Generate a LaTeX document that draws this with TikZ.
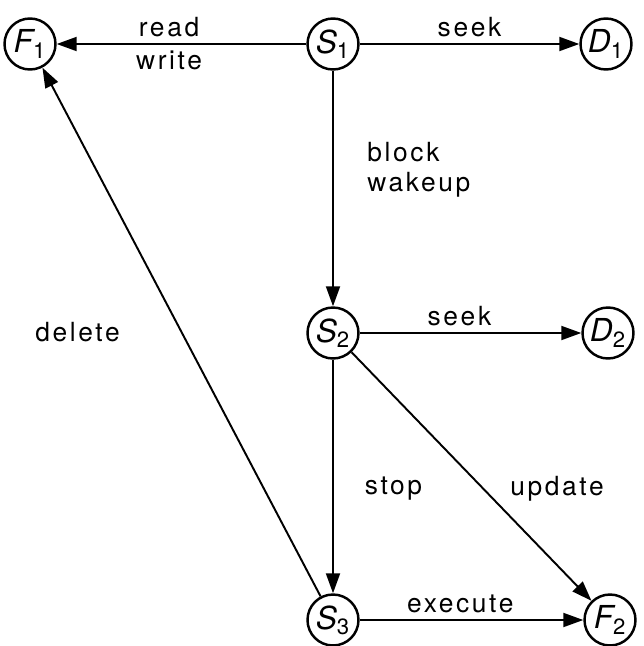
\documentclass[tikz,border=0pt]{standalone}
\usepackage{fontspec}
\setmainfont{TeX Gyre Heros}[LetterSpace=10]
\usetikzlibrary{automata,arrows.meta,positioning}

\begin{document}
\begin{tikzpicture}[x=0.02cm,y=-0.02cm,>={Triangle[length=4mm,width=2.8mm]},auto,
    every state/.style={draw,line width=1.4pt,minimum size=1.02cm,inner sep=0pt,
      font=\fontsize{18}{18}\selectfont\itshape},
    every edge/.style={draw,line width=1.1pt},
    lbl/.style={font=\fontsize{15}{17}\selectfont}]
    \useasboundingbox (0,0) rectangle (644,646);

    \node[state] (F1) at (30,44)   {F\textsubscript{\upshape 1}};
    \node[state] (S1) at (333,44)  {S\textsubscript{\upshape 1}};
    \node[state] (D1) at (606,44)  {D\textsubscript{\upshape 1}};
    \node[state] (S2) at (333,333) {S\textsubscript{\upshape 2}};
    \node[state] (D2) at (608,333) {D\textsubscript{\upshape 2}};
    \node[state] (S3) at (333,620) {S\textsubscript{\upshape 3}};
    \node[state] (F2) at (610,620) {F\textsubscript{\upshape 2}};

    \path[->]
    (S1) edge node[lbl, above, pos=0.55] {read} node[lbl, below, pos=0.55] {write} (F1)
    (S1) edge node[lbl] {seek} (D1)
    (S1) edge node[lbl, right=0.55cm, pos=0.42, align=left] {block\\wakeup} (S2)
    (S2) edge node[lbl, pos=0.45] {seek} (D2)
    (S2) edge node[lbl, right=0.5cm, pos=0.55] {stop} (S3)
    (S2) edge node[lbl, right=0.4cm, pos=0.55] {update} (F2)
    (S3) edge node[lbl, pos=0.45] {execute} (F2)
    (S3) edge node[lbl, left=1.1cm, pos=0.5] {delete} (F1)
    ;
\end{tikzpicture}
\end{document}
